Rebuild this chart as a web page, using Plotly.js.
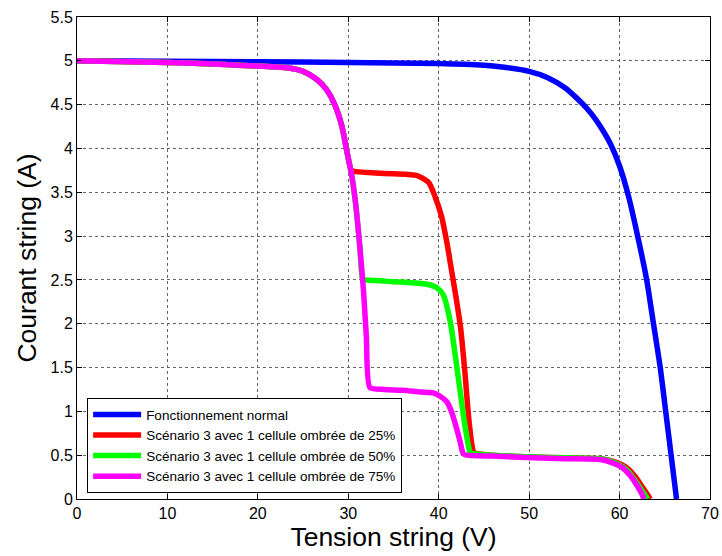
<!DOCTYPE html>
<html>
<head>
<meta charset="utf-8">
<script src="https://cdn.plot.ly/plotly-3.0.1.min.js"></script>
<style>html,body{margin:0;padding:0;background:#fff;}#chart{width:722px;height:556px;}</style>
</head>
<body>
<div id="chart"></div>
<script>
// Fonctionnement normal
const vNormal = [0,10,20,30,40,45,47,50,52,54,55,56,57,58,59,60,61,62,63,63.75,64.5,65.1,65.7,66.3];
const iNormal = [5.0,4.995,4.99,4.98,4.97,4.95,4.93,4.88,4.81,4.69,4.6,4.5,4.38,4.23,4.05,3.8,3.45,3.0,2.5,2.0,1.5,1.0,0.5,0.0];

// Scénario 3 - 25%
const v25 = [0,10,15.8,20,23.2,25,26.5,27.6,28.5,29.3,29.8,30.3,30.6,33,35,37.6,38.9,39.6,40.3,40.9,41.4,41.9,42.4,42.9,43.3,43.7,43.9,46,50.5,54,57.9,59.3,60.3,61.0,61.7,62.3,62.9,63.4];
const i25 = [5.0,4.98,4.96,4.94,4.92,4.88,4.79,4.67,4.5,4.25,3.99,3.76,3.74,3.72,3.71,3.69,3.61,3.45,3.23,2.93,2.62,2.31,1.97,1.44,0.94,0.60,0.53,0.5,0.48,0.47,0.46,0.43,0.39,0.34,0.26,0.17,0.08,0.0];

// Scénario 3 - 50%
const v50 = [0,10,15.8,20,23.2,25,26.5,27.6,28.5,29.3,29.8,30.4,30.8,31.3,31.6,32,35,38.7,39.8,40.5,41.3,42.0,42.7,43.3,43.5,46,50.5,54,57.9,59.3,60.3,61.0,61.6,62.2,62.7,63.1];
const i50 = [5.0,4.98,4.96,4.94,4.92,4.88,4.79,4.67,4.5,4.25,3.99,3.68,3.38,2.85,2.5,2.5,2.48,2.45,2.41,2.33,2.01,1.51,0.98,0.60,0.53,0.5,0.48,0.47,0.46,0.42,0.37,0.31,0.23,0.14,0.06,0.0];

// Scénario 3 - 75%
const v75 = [0,10,15.8,20,23.2,25,26.5,27.6,28.5,29.3,29.8,30.4,30.8,31.3,31.7,32.0,32.4,34,36,38,39.4,40.2,40.9,41.4,41.8,42.4,42.7,43.1,46,50.5,54,57.9,59.3,60.3,60.8,61.4,61.9,62.4,62.7];
const i75 = [5.0,4.98,4.96,4.94,4.92,4.88,4.79,4.67,4.5,4.25,3.99,3.68,3.38,2.85,2.35,1.85,1.27,1.25,1.24,1.22,1.21,1.17,1.11,1.0,0.87,0.64,0.52,0.5,0.49,0.47,0.46,0.45,0.41,0.36,0.31,0.24,0.16,0.07,0.0];

const names = ["Fonctionnement normal","Scénario 3 avec 1 cellule ombrée de 25%","Scénario 3 avec 1 cellule ombrée de 50%","Scénario 3 avec 1 cellule ombrée de 75%"];
const colors = ["#0000ff","#ff0000","#00ff00","#ff00ff"];
const xs = [vNormal,v25,v50,v75];
const ys = [iNormal,i25,i50,i75];

const traces = xs.map((x,k)=>({
  x:x, y:ys[k], type:"scatter", mode:"lines", name:names[k],
  line:{color:colors[k], width:5.5, shape:"spline", smoothing:0.6}
}));

const axisCommon = {
  showline:true, linecolor:"#000", linewidth:1, mirror:"ticks",
  ticks:"inside", ticklen:5, tickcolor:"#000",
  showgrid:true, gridcolor:"#666", griddash:"dot", gridwidth:1,
  zeroline:false, tickfont:{family:"Liberation Sans, Arial, sans-serif", size:16, color:"#000"}
};

const layout = {
  width:722, height:556,
  margin:{l:77, r:12, t:17, b:57},
  paper_bgcolor:"#fff", plot_bgcolor:"#fff",
  font:{family:"Liberation Sans, Arial, sans-serif", color:"#000"},
  xaxis:Object.assign({}, axisCommon, {range:[0,70], dtick:10, tick0:0,
    title:{text:"Tension string (V)", font:{size:26.5, color:"#000"}, standoff:2}}),
  yaxis:Object.assign({}, axisCommon, {range:[0,5.5], dtick:0.5, tick0:0,
    title:{text:"Courant string (A)", font:{size:26.5, color:"#000"}, standoff:6}}),
  showlegend:true,
  legend:{x:0.016, y:0.012, xanchor:"left", yanchor:"bottom",
    bgcolor:"#fff", bordercolor:"#000", borderwidth:1,
    font:{size:13.5, color:"#000"}, tracegroupgap:0, itemwidth:48}
};

Plotly.newPlot("chart", traces, layout, {displayModeBar:false, staticPlot:true});
</script>
</body>
</html>
